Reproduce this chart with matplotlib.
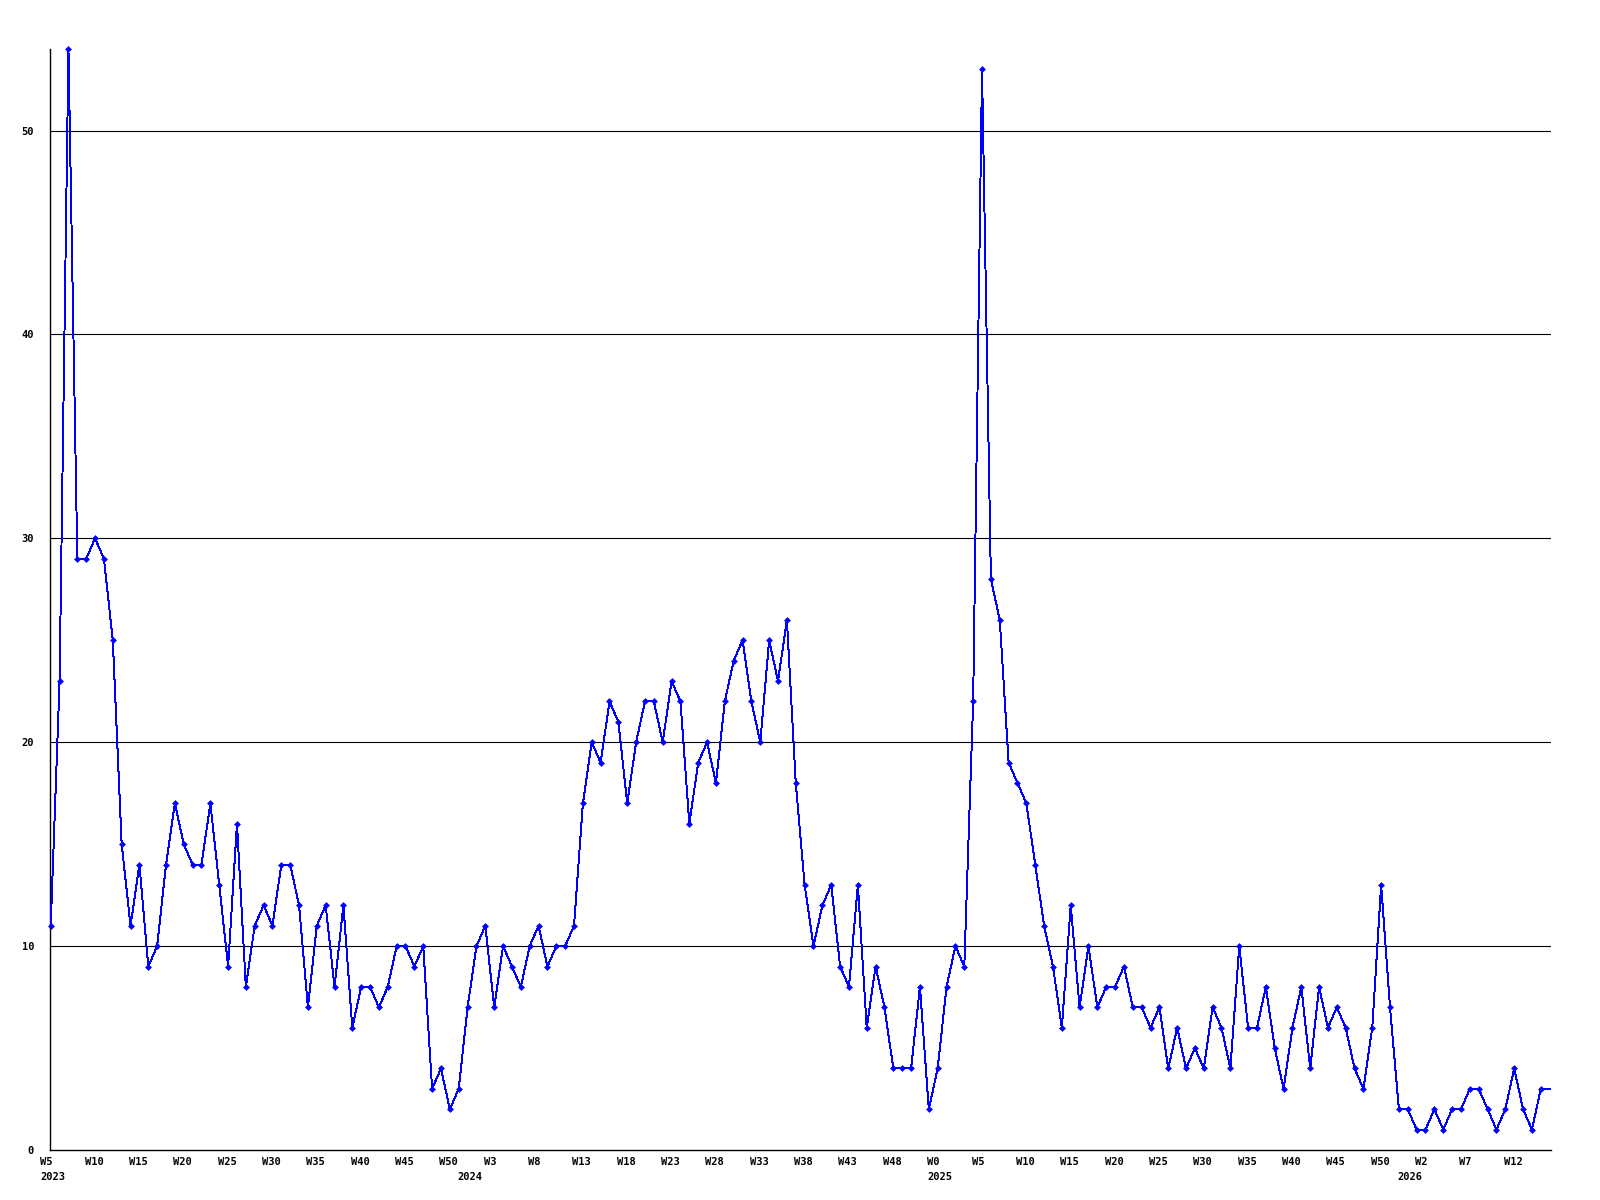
import matplotlib
matplotlib.use('Agg')
import matplotlib.pyplot as plt
import matplotlib.transforms as mtrans

# weekly counts, first point is 2023 W5
values = [11, 23, 54, 29, 29, 30, 29, 25, 15, 11,
          14, 9, 10, 14, 17, 15, 14, 14, 17, 13,
          9, 16, 8, 11, 12, 11, 14, 14, 12, 7,
          11, 12, 8, 12, 6, 8, 8, 7, 8, 10,
          10, 9, 10, 3, 4, 2, 3, 7, 10, 11,
          7, 10, 9, 8, 10, 11, 9, 10, 10, 11,
          17, 20, 19, 22, 21, 17, 20, 22, 22, 20,
          23, 22, 16, 19, 20, 18, 22, 24, 25, 22,
          20, 25, 23, 26, 18, 13, 10, 12, 13, 9,
          8, 13, 6, 9, 7, 4, 4, 4, 8, 2,
          4, 8, 10, 9, 22, 53, 28, 26, 19, 18,
          17, 14, 11, 9, 6, 12, 7, 10, 7, 8,
          8, 9, 7, 7, 6, 7, 4, 6, 4, 5,
          4, 7, 6, 4, 10, 6, 6, 8, 5, 3,
          6, 8, 4, 8, 6, 7, 6, 4, 3, 6,
          13, 7, 2, 2, 1, 1, 2, 1, 2, 2,
          3, 3, 2, 1, 2, 4, 2, 1, 3, 3]

week_labels = ['W5', 'W10', 'W15', 'W20', 'W25', 'W30', 'W35', 'W40', 'W45', 'W50',
               'W3', 'W8', 'W13', 'W18', 'W23', 'W28', 'W33', 'W38', 'W43', 'W48',
               'W0', 'W5', 'W10', 'W15', 'W20', 'W25', 'W30', 'W35', 'W40', 'W45',
               'W50', 'W2', 'W7', 'W12']
week_pos = list(range(0, 5 * len(week_labels), 5))

years = ['2023', '2024', '2025', '2026']
year_pos = [0, 47, 100, 153]

yticks = [0, 10, 20, 30, 40, 50]

font = {'family': 'DejaVu Sans Mono', 'weight': 'bold', 'size': 7.5}

fig = plt.figure(figsize=(16, 12), dpi=100)
ax = fig.add_axes([50 / 1600, 50 / 1200, 1501 / 1600, 1101 / 1200])

x = list(range(len(values)))
# last week sits on the right edge, its marker is cut off in the original
ax.plot(x, values, color='#0000ff', lw=0.7, marker='D', ms=3.5, mew=0,
        markevery=list(range(len(values) - 1)),
        antialiased=False, zorder=3, clip_on=False)

for v in yticks[1:]:
    ax.axhline(v, color='black', lw=0.8, zorder=1)

ax.set_xlim(-0.08, 169.15)
ax.set_ylim(0, 54)

for s in ['top', 'right']:
    ax.spines[s].set_visible(False)
for s in ['left', 'bottom']:
    ax.spines[s].set_linewidth(1.0)
    ax.spines[s].set_color('black')

ax.set_yticks(yticks)
ax.set_yticklabels([str(v) for v in yticks], fontdict=font)
ax.tick_params(axis='y', length=0, pad=11.5)

ax.set_xticks(week_pos)
ax.set_xticklabels(week_labels, fontdict=font)
ax.tick_params(axis='x', length=0, pad=5)

# labels in the reference start a bit left of their week
shift = mtrans.ScaledTranslation(-10.5 / 100, 0, fig.dpi_scale_trans)
for lbl in ax.get_xticklabels():
    lbl.set_ha('left')
    lbl.set_transform(lbl.get_transform() + shift)

trans = mtrans.blended_transform_factory(ax.transData, ax.transAxes) + shift
for yr, p in zip(years, year_pos):
    ax.text(p, -27.0 / 1101, yr, transform=trans, ha='left', va='center', **font)

fig.savefig('out.png', dpi=100, facecolor='white')
